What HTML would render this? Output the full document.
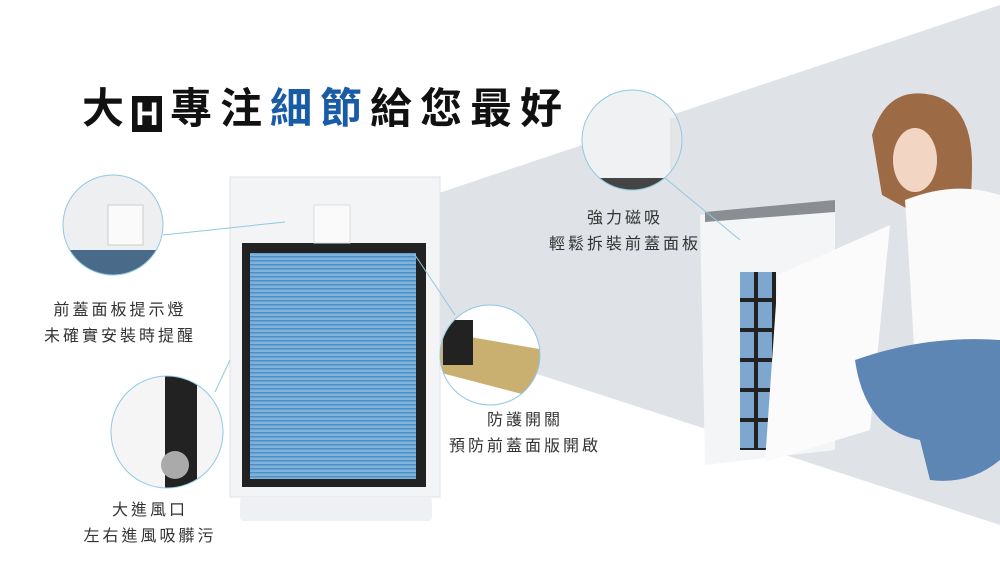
<!DOCTYPE html>
<html><head><meta charset="utf-8"><style>
body{margin:0;width:1000px;height:566px;overflow:hidden;background:#fff;font-family:"Liberation Sans","Noto Sans CJK TC",sans-serif;}
.t{position:absolute;font-size:16px;color:#333;letter-spacing:3px;text-align:center;line-height:26px;}
</style></head><body>
<svg width="1000" height="566" style="position:absolute;left:0;top:0">
<defs>
<pattern id="flt" width="6" height="4" patternUnits="userSpaceOnUse"><rect width="6" height="4" fill="#7fb3dc"/><rect width="6" height="1.5" fill="#4d8fc6"/></pattern>
<pattern id="grid" width="18" height="30" patternUnits="userSpaceOnUse"><rect width="18" height="30" fill="#222"/><rect x="2" y="2" width="14" height="26" fill="#7ea7d0"/></pattern>
<clipPath id="c1"><circle cx="113" cy="225" r="50"/></clipPath>
<clipPath id="c2"><circle cx="167" cy="432" r="56"/></clipPath>
<clipPath id="c3"><circle cx="632" cy="140" r="50"/></clipPath>
<clipPath id="c4"><circle cx="490" cy="355" r="50"/></clipPath>
</defs>
<polygon points="433,195 1000,5 1000,525 433,340" fill="#dfe2e6"/>
<rect x="230" y="177" width="210" height="320" fill="#f3f4f6" stroke="#e0e2e6"/>
<rect x="242" y="243" width="184" height="244" fill="#222"/>
<rect x="250" y="253" width="166" height="226" fill="url(#flt)"/>
<rect x="314" y="205" width="36" height="38" fill="#fafafa" stroke="#ddd"/>
<rect x="240" y="497" width="192" height="24" rx="4" fill="#eef0f3"/>
<polygon points="700,215 835,200 835,450 705,465" fill="#f4f5f7"/>
<polygon points="705,212 835,200 835,212 705,222" fill="#8a8d92"/>
<rect x="740" y="272" width="36" height="178" fill="url(#grid)"/>
<polygon points="778,275 890,225 870,430 765,462" fill="#fbfbfc"/>
<path d="M872 135 q15 -50 60 -40 q40 10 40 70 q0 50 -10 70 l-25 -10 l-55 -30z" fill="#9c6b45"/>
<ellipse cx="915" cy="160" rx="22" ry="32" fill="#f2d6c3"/>
<path d="M905 200 q50 -20 95 -5 v170 h-85 q-5 -90 -10 -165z" fill="#fafafa"/>
<path d="M855 360 q70 -25 145 -20 v120 q-30 25 -70 20 l-10 -40 q-55 -10 -65 -80z" fill="#5e86b4"/>
<g clip-path="url(#c1)"><rect x="60" y="170" width="110" height="110" fill="#eeeff1"/><rect x="108" y="205" width="35" height="40" fill="#fafafa" stroke="#ccc"/><rect x="60" y="250" width="110" height="30" fill="#4a6a8a"/></g>
<circle cx="113" cy="225" r="50" fill="none" stroke="#8fc9e2"/>
<g clip-path="url(#c2)"><rect x="100" y="370" width="130" height="125" fill="#f5f5f6"/><rect x="165" y="370" width="32" height="125" fill="#222"/><circle cx="175" cy="465" r="14" fill="#aaa"/></g>
<circle cx="167" cy="432" r="56" fill="none" stroke="#8fc9e2"/>
<g clip-path="url(#c3)"><rect x="580" y="88" width="110" height="110" fill="#f0f1f2"/><rect x="670" y="118" width="20" height="60" fill="#e4e5e7"/><rect x="580" y="178" width="110" height="20" fill="#444"/></g>
<circle cx="632" cy="140" r="50" fill="none" stroke="#8fc9e2"/>
<g clip-path="url(#c4)"><rect x="438" y="303" width="104" height="104" fill="#fff"/><polygon points="430,330 545,350 545,400 430,370" fill="#c9b070"/><rect x="443" y="320" width="30" height="45" fill="#222"/></g>
<circle cx="490" cy="355" r="50" fill="none" stroke="#8fc9e2"/>
<g stroke="#8fc9e2" fill="none"><line x1="163" y1="235" x2="285" y2="222"/><line x1="415" y1="255" x2="455" y2="315"/><line x1="230" y1="360" x2="215" y2="392"/><line x1="665" y1="178" x2="740" y2="240"/></g>
</svg>
<div style="position:absolute;left:82px;top:84px;font-size:42px;font-weight:bold;letter-spacing:8px;color:#111;line-height:50px;white-space:nowrap">大<span style="display:inline-block;width:30px;height:36px;background:#111;color:#fff;font-size:32px;line-height:36px;text-align:center;vertical-align:-2px;margin-right:8px;letter-spacing:0">H</span>專注<span style="color:#1a5ba6">細節</span>給您最好</div>
<div class="t" style="left:30px;top:298px;width:180px">前蓋面板提示燈<br>未確實安裝時提醒</div>
<div class="t" style="left:70px;top:498px;width:160px">大進風口<br>左右進風吸髒污</div>
<div class="t" style="left:525px;top:206px;width:200px">強力磁吸<br>輕鬆拆裝前蓋面板</div>
<div class="t" style="left:430px;top:408px;width:190px">防護開關<br>預防前蓋面版開啟</div>
</body></html>
